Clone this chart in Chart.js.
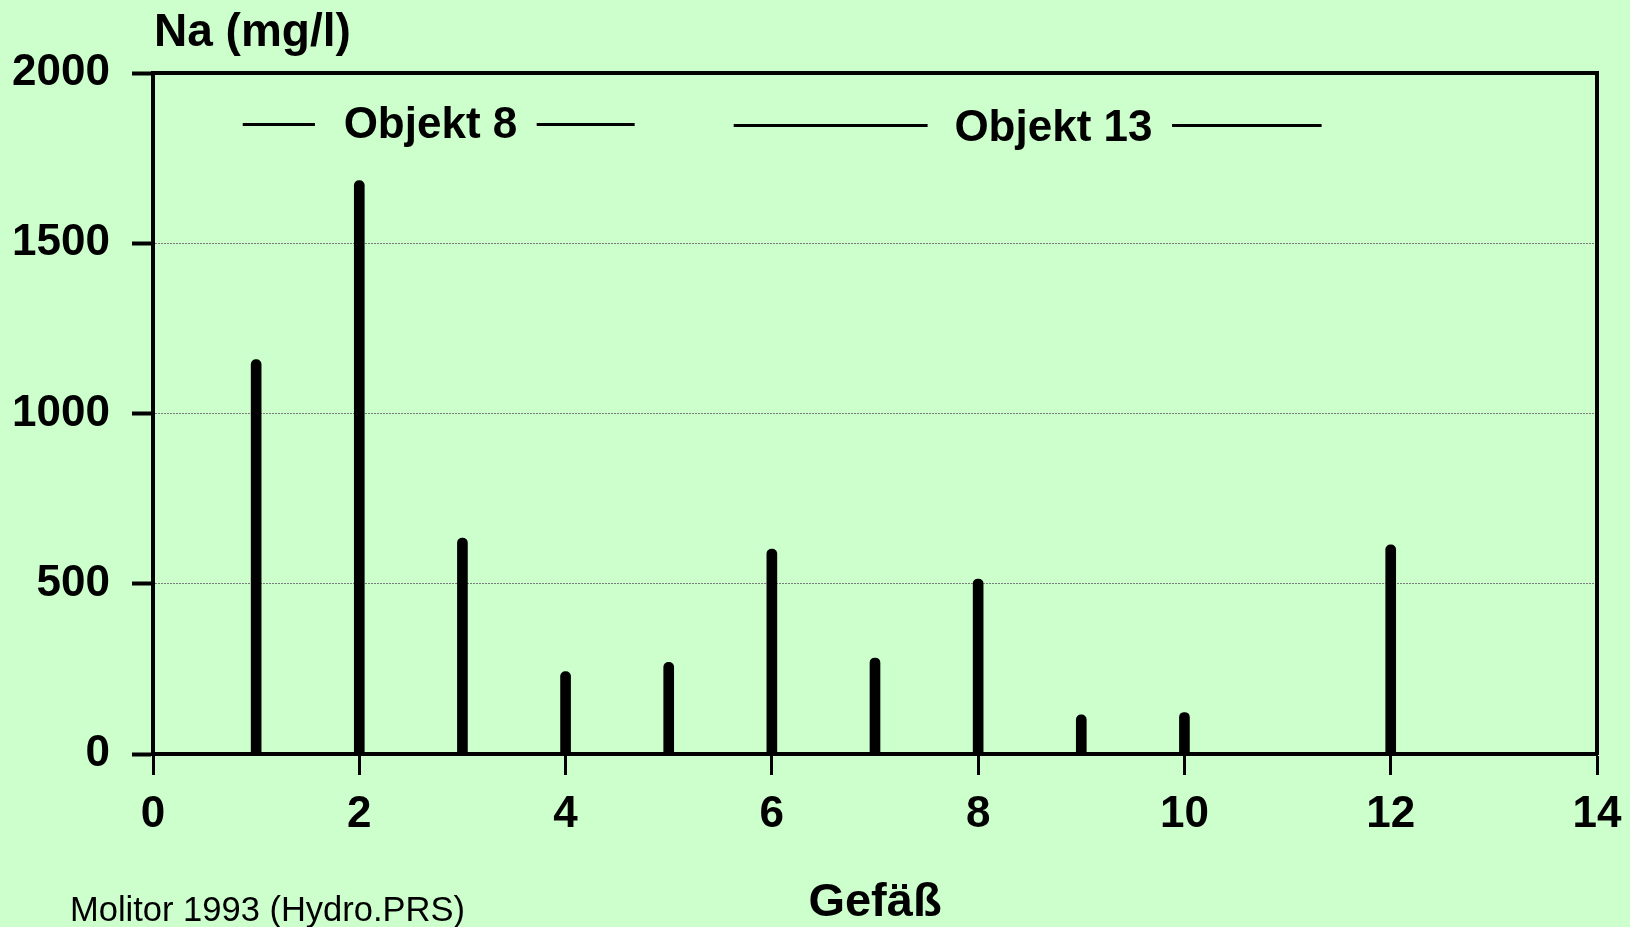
<!DOCTYPE html>
<html>
<head>
<meta charset="utf-8">
<script src="https://cdn.jsdelivr.net/npm/chart.js@4/dist/chart.umd.min.js"></script>
<style>
    body { margin: 0; background: #ccffcc; }
    #wrap { position: relative; width: 1630px; height: 927px; }
    .note { position: absolute; font-family: "Liberation Sans", Arial, sans-serif; line-height: 1; white-space: nowrap; color: #000; }
    #ytitle { left: 154px; top: 7px; font-size: 46px; font-weight: bold; }
    #source { left: 70px; top: 892px; font-size: 34.5px; }
</style>
</head>
<body>
<div id="wrap">
    <canvas id="chart1" width="1630" height="927"></canvas>
    <div class="note" id="ytitle">Na (mg/l)</div>
    <div class="note" id="source">Molitor 1993 (Hydro.PRS)</div>
</div>
<script>
// Gefäß-Nummer und Na-Gehalt (mg/l)
const vessels = [1, 2, 3, 4, 5, 6, 7, 8, 9, 10, 12];
const naValues = [1158, 1684, 634, 242, 269, 602, 282, 514, 115, 122, 614];
const yTicks = [0, 500, 1000, 1500, 2000];
const xTicks = [0, 2, 4, 6, 8, 10, 12, 14];

// Objekt-Klammern oben im Diagramm
const groupLabels = ['Objekt 8', 'Objekt 13'];
const groupLabelX = [2.69, 8.73];
const groupLabelY = [1845, 1837];
const groupLineY = [1849, 1846];
const groupLines = [
    [[0.87, 1.57], [3.72, 4.67]],
    [[5.63, 7.51], [9.88, 11.33]]
];

const FONT = '"Liberation Sans", Arial, sans-serif';

const groupPlugin = {
    id: 'groups',
    afterDatasetsDraw(chart) {
        const ctx = chart.ctx;
        const xs = chart.scales.x;
        const ys = chart.scales.y;
        ctx.save();
        ctx.strokeStyle = '#000';
        ctx.lineWidth = 3;
        ctx.fillStyle = '#000';
        ctx.font = 'bold 44px ' + FONT;
        ctx.textAlign = 'center';
        ctx.textBaseline = 'middle';
        for (let i = 0; i < groupLabels.length; i++) {
            var y = ys.getPixelForValue(groupLineY[i]);
            groupLines[i].forEach(seg => {
                ctx.beginPath();
                ctx.moveTo(xs.getPixelForValue(seg[0]), y);
                ctx.lineTo(xs.getPixelForValue(seg[1]), y);
                ctx.stroke();
            });
            ctx.fillText(groupLabels[i], xs.getPixelForValue(groupLabelX[i]), ys.getPixelForValue(groupLabelY[i]));
        }
        ctx.restore();
    }
};

const data = {
    datasets: [
        {
            label: 'Na',
            data: vessels.map((v, i) => ({ x: v, y: naValues[i] })),
            backgroundColor: '#000',
            borderWidth: 0,
            barThickness: 10,
            borderRadius: { topLeft: 5, topRight: 5, bottomLeft: 0, bottomRight: 0 },
            borderSkipped: false,
        }
    ]
};

const config = {
    type: 'bar',
    data: data,
    options: {
        responsive: false,
        animation: false,
        layout: {
            padding: { top: 73, right: 33, bottom: 0, left: 0 }
        },
        plugins: {
            legend: { display: false },
            tooltip: { enabled: false },
            title: { display: false }
        },
        scales: {
            x: {
                type: 'linear',
                position: 'bottom',
                min: 0,
                max: 14,
                offset: false,
                afterBuildTicks: s => { s.ticks = xTicks.map(v => ({ value: v })); },
                afterFit: s => { s.height = 173; s.paddingLeft = 0; s.paddingRight = 0; },
                grid: {
                    offset: false,
                    drawOnChartArea: false,
                    tickLength: 21,
                    tickWidth: 3,
                    tickColor: '#000',
                    color: '#000'
                },
                border: { display: true, width: 4, color: '#000' },
                ticks: {
                    color: '#000',
                    padding: 13,
                    maxRotation: 0,
                    autoSkip: false,
                    callback: v => String(v),
                    font: { family: FONT, size: 44, weight: 'bold' }
                },
                title: {
                    display: true,
                    text: 'Gefäß',
                    color: '#000',
                    padding: { top: 0, bottom: 0 },
                    font: { family: FONT, size: 47, weight: 'bold', lineHeight: 1 }
                }
            },
            y: {
                type: 'linear',
                position: 'left',
                min: 0,
                max: 2000,
                afterBuildTicks: s => { s.ticks = yTicks.map(v => ({ value: v })); },
                afterFit: s => { s.width = 153; },
                grid: {
                    color: c => (c.tick && c.tick.value > 0 && c.tick.value < 2000) ? '#7a7a7a' : 'rgba(0,0,0,0)',
                    lineWidth: 1,
                    tickLength: 21,
                    tickWidth: 4,
                    tickColor: '#000',
                    tickBorderDash: []
                },
                border: { display: true, width: 4, color: '#000', dash: [2, 1] },
                ticks: {
                    color: '#000',
                    padding: 22,
                    callback: v => String(v),
                    font: { family: FONT, size: 44, weight: 'bold' }
                }
            },
            xTop: {
                type: 'linear',
                position: 'top',
                min: 0,
                max: 14,
                grid: { drawOnChartArea: false, drawTicks: false },
                border: { display: true, width: 4, color: '#000' },
                ticks: { display: false }
            },
            yRight: {
                type: 'linear',
                position: 'right',
                min: 0,
                max: 2000,
                grid: { drawOnChartArea: false, drawTicks: false },
                border: { display: true, width: 4, color: '#000' },
                ticks: { display: false }
            }
        }
    },
    plugins: [groupPlugin]
};

const chart1 = new Chart(document.getElementById('chart1'), config);
</script>
</body>
</html>
